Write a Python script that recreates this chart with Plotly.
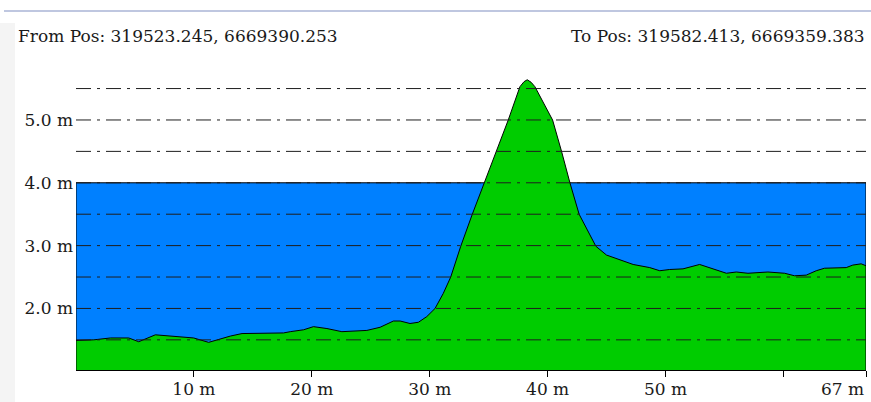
import plotly.graph_objects as go

# ---- data ----
dist_m = [0.0, 1.51, 2.92, 4.47, 5.32, 6.73, 8.0, 9.98, 11.25, 13.09, 14.08, 17.6, 18.17,
          19.3, 20.14, 21.28, 22.55, 23.25, 24.67, 25.79, 26.92, 27.49, 28.33, 29.04,
          29.75, 30.45, 31.15, 31.78, 32.63, 33.61, 34.63, 35.62, 36.66, 37.65, 38.0,
          38.27, 38.6, 38.92, 40.42, 41.18, 41.89, 42.67, 44.09, 44.99, 46.12, 47.25,
          48.66, 49.51, 50.35, 51.48, 52.89, 54.31, 55.16, 56.0, 56.99, 58.68, 60.1,
          60.94, 61.93, 62.78, 63.48, 65.32, 65.88, 66.59, 67.0]
elev_m = [1.49, 1.50, 1.53, 1.53, 1.47, 1.58, 1.56, 1.53, 1.46, 1.56, 1.60, 1.61, 1.63,
          1.66, 1.71, 1.68, 1.63, 1.64, 1.65, 1.70, 1.80, 1.80, 1.76, 1.78,
          1.87, 2.00, 2.24, 2.50, 2.99, 3.50, 4.00, 4.50, 5.00, 5.53, 5.61,
          5.64, 5.60, 5.53, 5.00, 4.50, 4.00, 3.50, 2.99, 2.85, 2.78, 2.70,
          2.65, 2.60, 2.62, 2.63, 2.70, 2.62, 2.56, 2.58, 2.56, 2.58, 2.56,
          2.52, 2.53, 2.60, 2.64, 2.65, 2.69, 2.71, 2.68]
water_level = 4.0
total_len = 67
grid_levels = [1.5, 2.0, 2.5, 3.0, 3.5, 4.0, 4.5, 5.0, 5.5]
y_tick_vals = [2.0, 3.0, 4.0, 5.0]
y_tick_text = ["2.0 m", "3.0 m", "4.0 m", "5.0 m"]
x_tick_vals = [10, 20, 30, 40, 50, 60, 67]
x_tick_text = ["10 m", "20 m", "30 m", "40 m", "50 m", "", ""]
end_label = "67 m"
from_text = "From Pos: 319523.245, 6669390.253"
to_text = "To Pos: 319582.413, 6669359.383"

# ---- layout geometry ----
W, H = 871, 402
ML, MR, MT, MB = 76, 5, 76, 32
Y_RANGE = [1.02, 5.70]
FONT = "DejaVu Serif"
FS = 17

def px_x(p):
    return (p - ML) / (W - ML - MR)

def px_y(p):
    return (H - MB - p) / (H - MT - MB)

fig = go.Figure()

# terrain polygon (closed down to the axis floor)
poly_x = [dist_m[0]] + dist_m + [dist_m[-1]]
poly_y = [Y_RANGE[0]] + elev_m + [Y_RANGE[0]]
fig.add_trace(go.Scatter(
    x=poly_x, y=poly_y, mode="lines", fill="toself",
    fillcolor="#00cc00", line=dict(color="black", width=1),
    hoverinfo="skip", showlegend=False))

shapes = []
# water body
shapes.append(dict(type="rect", xref="x", yref="y", x0=0, x1=total_len,
                   y0=Y_RANGE[0], y1=water_level, fillcolor="#0080ff",
                   line=dict(color="black", width=1), layer="below"))
# dash-dot reference lines
for lv in grid_levels:
    shapes.append(dict(type="line", xref="x", yref="y", x0=0, x1=total_len,
                       y0=lv, y1=lv, layer="above",
                       line=dict(color="#1e1e1e", width=1, dash="15px,6px,3px,6px")))
# page decorations
shapes.append(dict(type="rect", xref="paper", yref="paper",
                   x0=px_x(0), x1=px_x(15), y0=px_y(402), y1=px_y(23),
                   fillcolor="#f4f4f4", line=dict(width=0), layer="below"))
shapes.append(dict(type="line", xref="paper", yref="paper",
                   x0=px_x(4), x1=px_x(871), y0=px_y(11), y1=px_y(11),
                   line=dict(color="#aab4d6", width=1.5)))

annotations = [
    dict(text=from_text, xref="paper", yref="paper", x=px_x(16), y=px_y(36),
         xanchor="left", yanchor="middle", showarrow=False,
         font=dict(family=FONT, size=FS, color="#1a1a1a")),
    dict(text=to_text, xref="paper", yref="paper", x=px_x(867), y=px_y(36),
         xanchor="right", yanchor="middle", showarrow=False,
         font=dict(family=FONT, size=FS, color="#1a1a1a")),
    dict(text=end_label, xref="x", yref="paper", x=total_len, y=px_y(389),
         xanchor="right", yanchor="middle", showarrow=False,
         font=dict(family=FONT, size=FS, color="#1a1a1a")),
]

fig.update_layout(
    width=W, height=H,
    margin=dict(l=ML, r=MR, t=MT, b=MB, pad=0, autoexpand=False),
    paper_bgcolor="white", plot_bgcolor="white",
    font=dict(family=FONT, size=FS, color="#1a1a1a"),
    shapes=shapes, annotations=annotations, showlegend=False,
    xaxis=dict(range=[0, total_len], showgrid=False, zeroline=False,
               showline=True, linecolor="black", linewidth=1,
               ticks="outside", ticklen=6, tickcolor="black", tickwidth=1,
               tickvals=x_tick_vals, ticktext=x_tick_text, automargin=False,
               ticklabelstandoff=-2, fixedrange=True),
    yaxis=dict(range=Y_RANGE, showgrid=False, zeroline=False, showline=False,
               ticks="", tickvals=y_tick_vals, ticktext=y_tick_text,
               automargin=False, ticklabelstandoff=2, fixedrange=True),
)

fig.write_html("out.html", config={"displayModeBar": False},
               post_script="document.body.style.margin='0';document.body.style.overflow='hidden';")
